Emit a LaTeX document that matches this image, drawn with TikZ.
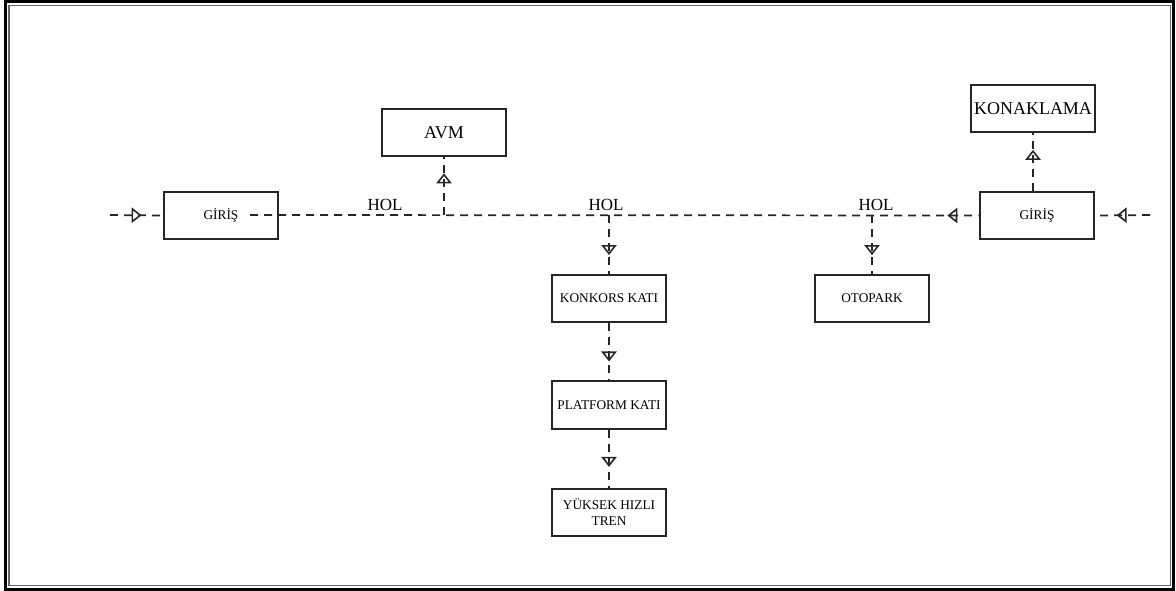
\documentclass[tikz,border=0pt]{standalone}
\usepackage{fontspec}
\setmainfont{Liberation Serif}
\usetikzlibrary{arrows.meta,decorations.markings}
\begin{document}
\begin{tikzpicture}[x=0.75pt,y=-0.75pt,
  box/.style={draw=black!85,line width=1.5pt,minimum width=86pt,minimum height=35.5pt,
    inner sep=0pt,align=center,font=\fontsize{10}{12}\selectfont},
  bigbox/.style={box,minimum width=93pt,font=\fontsize{13.5}{15}\selectfont},
  flow/.style={draw=black!85,line width=1.3pt,dash pattern=on 6pt off 4.5pt},
  tipfwd/.style={postaction={decorate},decoration={markings,
    mark=at position #1 with {\arrow{Triangle[open,length=7.5pt,width=11.5pt,line width=1.2pt]}}}},
  tipback/.style={postaction={decorate},decoration={markings,
    mark=at position #1 with {\arrowreversed{Triangle[open,length=7.5pt,width=11.5pt,line width=1.2pt]}}}},
  hall/.style={anchor=base,inner sep=0pt,font=\fontsize{12.75}{14}\selectfont}
]
\useasboundingbox (0,0) rectangle (1176,591);

% double frame
\draw[black,line width=1.6pt] (5.5,1.5) rectangle (1173.5,589.5);
\draw[black!60,line width=1.2pt] (9,5.5) rectangle (1170.5,585.5);

% boxes
\node[box] (g1) at (221,215.5) {GİRİŞ};
\node[box] (g2) at (1037,215.5) {GİRİŞ};
\node[bigbox] (avm) at (444,132.5) {AVM};
\node[bigbox] (kon) at (1033,108.5) {KONAKLAMA};
\node[box] (konk) at (609,298.5) {KONKORS KATI};
\node[box] (oto) at (872,298.5) {OTOPARK};
\node[box] (plat) at (609,405) {PLATFORM KATI};
\node[box] (yht) at (609,512.5) {YÜKSEK HIZLI\\TREN};

% hall labels
\node[hall] (h1) at (385,211) {HOL};
\node[hall] (h2) at (606,211) {HOL};
\node[hall] (h3) at (876,211) {HOL};

% line ends and junctions on the main axis
\coordinate (inL) at (110,215);
\coordinate (inR) at (1150,215);
\coordinate (m0) at (250,215);
\coordinate (j1) at (444,215);
\coordinate (j2) at (609,215);
\coordinate (j3) at (872,215);

% main axis
\path[flow,tipfwd=0.6] (inL) -- (g1.west);
\path[flow,tipback=0.957] (m0) -- (g2.west);
\path[flow,tipfwd=0.61] (inR) -- (g2.east);

% branches
\path[flow,tipfwd=0.72] (j1) -- (avm.south);
\path[flow,tipfwd=0.71] (g2.north -| kon.south) -- (kon.south);
\path[flow,tipfwd=0.68] (j2) -- (konk.north);
\path[flow,tipfwd=0.68] (j3) -- (oto.north);
\path[flow,tipfwd=0.67] (konk.south) -- (plat.north);
\path[flow,tipfwd=0.64] (plat.south) -- (yht.north);
\end{tikzpicture}
\end{document}
